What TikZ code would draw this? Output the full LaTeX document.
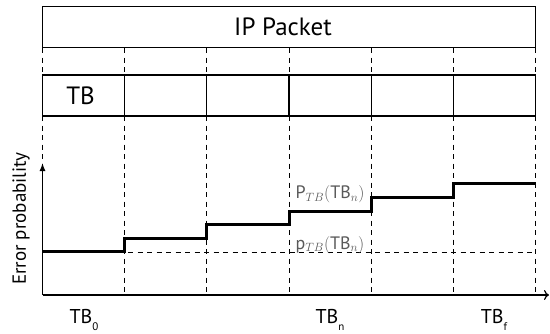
\documentclass[tikz,border=0pt]{standalone}
\usepackage{fontspec}
\setmainfont{PT Sans}
\usetikzlibrary{arrows.meta}
\newcommand{\tbsub}[1]{TB\raisebox{-7pt}{\fontsize{11}{11}\selectfont #1}}
\begin{document}
\begin{tikzpicture}[x=1pt,y=-1pt,
  box/.style={draw, line width=1.2pt, inner sep=0pt},
  guide/.style={line width=0.9pt, dash pattern=on 5pt off 4.5pt},
  stepline/.style={line width=3pt},
  axis/.style={line width=1.2pt},
  biglbl/.style={font=\fontsize{25}{28}\selectfont, inner sep=0pt},
  lbl/.style={font=\fontsize{20}{22}\selectfont, inner sep=0pt},
  plbl/.style={text=black!65, font=\fontsize{18}{20}\selectfont, inner sep=0pt}]
\useasboundingbox (0,0) rectangle (550,333);
\def\w{82.1667}
\node[box, minimum width=493pt, minimum height=41.5pt] (ip) at (289,27) {};
\node[biglbl, anchor=base] (iplabel) at (283,35.7) {IP Packet};
\foreach \i in {0,...,5}
  \node[box, minimum width=\w pt, minimum height=41pt] (tb\i) at ({42.5+\w*(\i+0.5)}, 95.5) {};
\node[biglbl, anchor=base] (tblabel) at (80.5,104) {TB};
% guides
\foreach \i in {0,...,6} {
  \coordinate (g\i a) at ({42.5+\w*\i}, 48);
  \coordinate (g\i b) at ({42.5+\w*\i}, 75);
  \coordinate (g\i c) at ({42.5+\w*\i}, 116);
  \coordinate (g\i d) at ({42.5+\w*\i}, 295);
  \draw[guide] (g\i a) -- (g\i b);
}
\foreach \i in {1,...,6} \draw[guide] (g\i c) -- (g\i d);
\coordinate (g0e) at (42.5,168);
\draw[guide] (g0c) -- (g0e);
% axes
\coordinate (o) at (42.5,295);
\coordinate (ytop) at (42.5,163);
\coordinate (xend) at (549,295);
\draw[axis,-{Latex[length=8pt,width=6pt]}] (o) -- (ytop);
\draw[axis,-{To[length=5pt,width=10pt]}] (o) -- (xend);
\node[rotate=90, anchor=base, font=\fontsize{19}{21}\selectfont, inner sep=0pt] (ylab) at (26,218.5) {Error probability};
% dashed baseline
\coordinate (h0) at (42.5,252);
\coordinate (h1) at (535.5,252);
\draw[guide] (h0) -- (h1);
% step curve
\coordinate (s0) at (42.5,251);
\draw[stepline] (s0) -| ({42.5+\w},238) -| ({42.5+2*\w},224.5) -| ({42.5+3*\w},211)
  -| ({42.5+4*\w},197) -| ({42.5+5*\w},183.5) -- (535.5,183.5);
% labels
\node[plbl, anchor=base] (Pl) at (330,198.5) {$\mathrm{P}_{TB}(\mathrm{TB}_{n})$};
\node[plbl, anchor=base] (pl) at (330,249) {$\mathrm{p}_{TB}(\mathrm{TB}_{n})$};
\node[lbl, anchor=base] (t0) at (84,323.5) {\tbsub{0}};
\node[lbl, anchor=base] (tn) at (330,323.5) {\tbsub{n}};
\node[lbl, anchor=base] (tf) at (494,323.5) {\tbsub{f}};
\end{tikzpicture}
\end{document}
